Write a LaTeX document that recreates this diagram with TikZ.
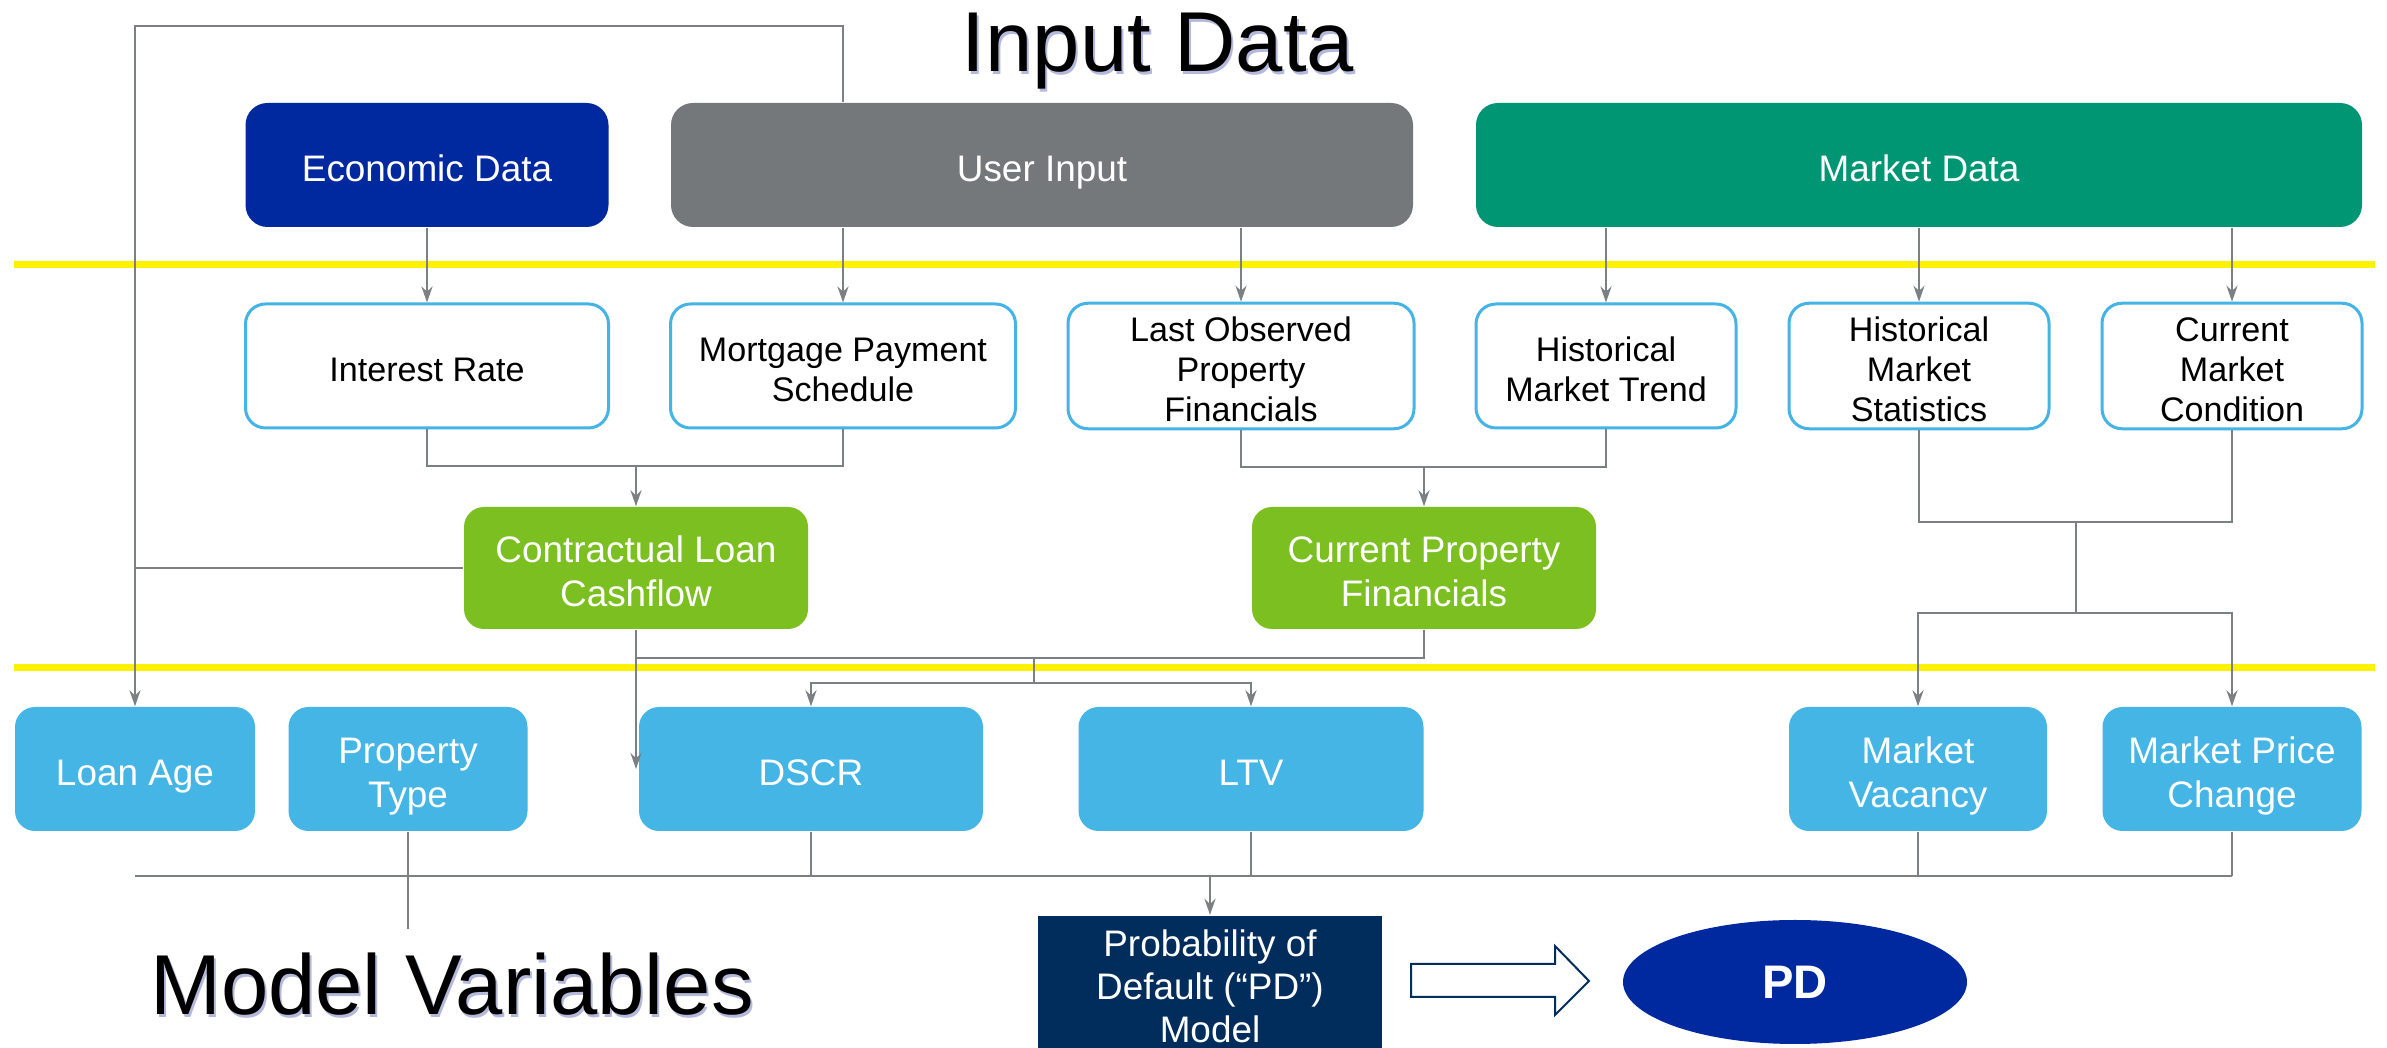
\documentclass[tikz,border=0pt]{standalone}
\usepackage{fontspec}
\setmainfont{Liberation Sans}
\usetikzlibrary{arrows.meta,positioning,shapes.geometric}
\definecolor{econblue}{RGB}{0,41,160}
\definecolor{usergray}{RGB}{117,120,123}
\definecolor{mktgreen}{RGB}{0,150,115}
\definecolor{inblue}{RGB}{68,180,230}
\definecolor{calcgreen}{RGB}{123,191,33}
\definecolor{varblue}{RGB}{68,181,229}
\definecolor{pdnavy}{RGB}{0,45,92}
\definecolor{linegray}{RGB}{125,128,130}
\definecolor{shadowblue}{RGB}{180,185,220}
\newcommand{\topline}{\rule{0pt}{1.12em}}

\begin{document}
\begin{tikzpicture}[x=0.1mm, y=-0.1mm,
  boxtext/.style={inner sep=0pt, align=center,
    execute at begin node={\topline},
    execute at end node={\rule[-0.212em]{0pt}{0.212em}}},
  srcbox/.style={boxtext, rounded corners=2.2mm, minimum height=12.4mm,
    text=white, font=\fontsize{10.5}{12.5}\selectfont},
  inbox/.style={boxtext, draw=inblue, line width=0.3mm, fill=white, rounded corners=2mm,
    minimum height=12.4mm, font=\fontsize{9.7}{11.4}\selectfont},
  calcbox/.style={boxtext, fill=calcgreen, rounded corners=2mm, minimum width=34.4mm,
    minimum height=12.2mm, text=white, font=\fontsize{10.5}{12.5}\selectfont},
  varbox/.style={boxtext, fill=varblue, rounded corners=2mm, minimum height=12.4mm,
    text=white, font=\fontsize{10.5}{12.5}\selectfont},
  heading/.style={anchor=base, font=\fontsize{24.2}{29}\selectfont},
  link/.style={draw=linegray, line width=0.25mm},
  feed/.style={link, -{Stealth[length=1.6mm, width=1.1mm]}},
  divider/.style={draw=yellow, line width=0.7mm}]
  \path[use as bounding box, fill=white] (0,0) rectangle (2387,1048);

  % Titles
  \node[heading, text=shadowblue] at (1160,75) {Input Data};
  \node[heading] (inputtitle) at (1158,72) {Input Data};
  \node[heading, text=shadowblue] at (454,1018) {Model Variables};
  \node[heading] (modeltitle) at (452,1015) {Model Variables};

  % Sources
  \node[srcbox, fill=econblue, minimum width=36.3mm] (econ) at (427,165) {Economic Data};
  \node[srcbox, fill=usergray, minimum width=74.2mm] (userin) at (1042,165) {User Input};
  \node[srcbox, fill=mktgreen, minimum width=88.6mm] (market) at (1919,165) {Market Data};

  % Dividers
  \draw[divider] (14,265) -- (2375,265);
  \draw[divider] (14,668) -- (2375,668);

  % Inputs
  \node[inbox, minimum width=36.3mm] (rate) at (427,366) {Interest Rate};
  \node[inbox, minimum width=34.5mm] (mortgage) at (843,366) {\topline Mortgage Payment\\Schedule};
  \node[inbox, minimum width=34.6mm] (lastobs) at (1241,366) {\topline Last Observed\\Property\\Financials};
  \node[inbox, minimum width=26mm] (histtrend) at (1606,366) {\topline Historical\\Market Trend};
  \node[inbox, minimum width=26mm] (histstats) at (1919,366) {\topline Historical\\Market\\Statistics};
  \node[inbox, minimum width=26mm] (curcond) at (2232,366) {\topline Current\\Market\\Condition};

  % Derived values
  \node[calcbox] (cashflow) at (636,568) {\topline Contractual Loan\\Cashflow};
  \node[calcbox] (curprop) at (1424,568) {\topline Current Property\\Financials};

  % Model variables
  \node[varbox, minimum width=24mm] (loanage) at (135,769) {Loan Age};
  \node[varbox, minimum width=23.9mm] (proptype) at (408,769) {\topline Property\\Type};
  \node[varbox, minimum width=34.4mm] (dscr) at (811,769) {DSCR};
  \node[varbox, minimum width=34.5mm] (ltv) at (1251,769) {LTV};
  \node[varbox, minimum width=25.8mm] (mktvac) at (1918,769) {\topline Market\\Vacancy};
  \node[varbox, minimum width=25.9mm] (mktprice) at (2232,769) {\topline Market Price\\Change};

  % Model and result
  \node[boxtext, fill=pdnavy, minimum width=34.4mm, minimum height=13mm,
        text=white, font=\fontsize{10.5}{12.2}\selectfont] (pdmodel) at (1210,983)
        {\topline Probability of\\Default (“PD”)\\Model};
  \node[ellipse, fill=econblue, minimum width=34.4mm, minimum height=12.4mm, text=white,
        font=\bfseries\fontsize{13.4}{16}\selectfont] (pd) at (1795,982) {PD};
  \draw[draw=pdnavy, line width=0.2mm, fill=white] (1411,964) -- (1555,964) -- (1555,946)
    -- (1589,981) -- (1555,1015) -- (1555,997) -- (1411,997) -- cycle;

  % Junction points
  \coordinate (looptop) at (135,26);
  \coordinate (cfjoin) at (636,466);
  \coordinate (cpjoin) at (1424,467);
  \coordinate (mkjoin) at (2076,522);
  \coordinate (mksplit) at (2076,613);
  \coordinate (valbus) at (1034,658);
  \coordinate (valsplit) at (1034,683);
  \coordinate (bus) at (1208,876);
  \coordinate (ptstub) at (408,929);

  % Sources to inputs
  \draw[feed] (econ) -- (rate);
  \foreach \n in {mortgage,lastobs}
    \draw[feed] (userin.south -| \n) -- (\n);
  \foreach \n in {histtrend,histstats,curcond}
    \draw[feed] (market.south -| \n) -- (\n);

  % Loan age loop
  \draw[feed] (userin.north -| mortgage) |- (looptop) -- (loanage);
  \draw[link] (cashflow.west) -- (cashflow.west -| looptop);

  % Inputs to derived values
  \draw[link] (rate.south) |- (cfjoin) -| (mortgage.south);
  \draw[feed] (cfjoin) -- (cashflow);
  \draw[link] (lastobs.south) |- (cpjoin) -| (histtrend.south);
  \draw[feed] (cpjoin) -- (curprop);

  % Market branch
  \draw[link] (histstats.south) |- (mkjoin) -| (curcond.south);
  \draw[link] (mkjoin) -- (mksplit);
  \draw[feed] (mksplit) -| (mktvac);
  \draw[feed] (mksplit) -| (mktprice);

  % Derived values to DSCR and LTV
  \draw[feed] (cashflow.south) -- (cashflow.south |- dscr.west);
  \draw[link] (curprop.south) |- (cashflow.south |- valbus);
  \draw[link] (valbus) -- (valsplit);
  \draw[feed] (valsplit) -| (dscr);
  \draw[feed] (valsplit) -| (ltv);

  % Variables into the model
  \draw[link] (bus -| loanage) -- (bus -| mktprice);
  \foreach \n in {dscr,ltv,mktvac,mktprice}
    \draw[link] (\n.south) -- (\n.south |- bus);
  \draw[link] (proptype.south) -- (ptstub);
  \draw[feed] (bus -| pdmodel) -- (pdmodel);
\end{tikzpicture}
\end{document}
